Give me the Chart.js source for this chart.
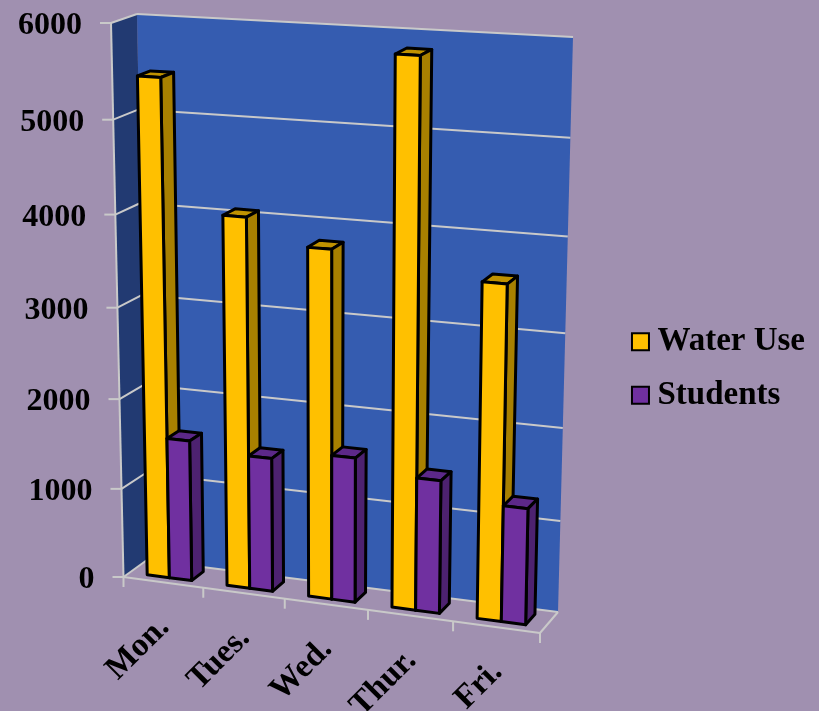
<!DOCTYPE html>
<html>
<head>
<meta charset="utf-8">
<title>Water Use and Students</title>
<script src="https://cdn.jsdelivr.net/npm/chart.js@4"></script>
<style>
  html, body { margin: 0; padding: 0; background: #a090b0; }
  #wrap { width: 819px; height: 711px; }
</style>
</head>
<body>
<div id="wrap"><canvas id="chart" width="819" height="711"></canvas></div>
<script>
// Chart values
const categories = ['Mon.', 'Tues.', 'Wed.', 'Thur.', 'Fri.'];
const waterUse = [5440, 4050, 3790, 5830, 3590];
const students = [1570, 1480, 1590, 1450, 1260];

// Box of the 3D scene on screen, front and back planes
const frontPlane = { tl: [111, 23], tr: [552, 50], br: [540, 633], bl: [123.5, 577] };
const backPlane = { tl: [137, 14], tr: [573, 37], br: [558, 612], bl: [147, 560] };
const barDepth = { near: 0.27, far: 0.78 };

const palette = {
  page: '#a090b0', wall: '#355cb0', sideWall: '#223a72', rule: '#c9c9c9',
  ink: '#000000',
  water: { front: '#ffc000', side: '#a88000', top: '#c09200' },
  students: { front: '#7030a0', side: '#4d2270', top: '#5c2888' }
};
const valueFont = 'bold 32px "Liberation Serif", serif';
const categoryFont = 'bold 33px "Liberation Serif", serif';

// Homography taking the unit square onto a quad (u right, v up)
function squareToQuad(q) {
  const [x0, y0] = q.bl, [x1, y1] = q.br, [x2, y2] = q.tr, [x3, y3] = q.tl;
  const dx1 = x1 - x2, dx2 = x3 - x2, sx = x0 - x1 + x2 - x3;
  const dy1 = y1 - y2, dy2 = y3 - y2, sy = y0 - y1 + y2 - y3;
  const den = dx1 * dy2 - dx2 * dy1;
  const g = (sx * dy2 - dx2 * sy) / den;
  const h = (dx1 * sy - sx * dy1) / den;
  const a = x1 - x0 + g * x1, b = x3 - x0 + h * x3;
  const d = y1 - y0 + g * y1, e = y3 - y0 + h * y3;
  return (u, v) => {
    const w = g * u + h * v + 1;
    return [(a * u + b * v + x0) / w, (d * u + e * v + y0) / w];
  };
}
const frontMap = squareToQuad(frontPlane);
const backMap = squareToQuad(backPlane);

// u, v in chart-area fractions; depth 0 at the front edge, 1 at the back wall
function project(u, v, depth) {
  const f = frontMap(u, v), b = backMap(u, v);
  return [f[0] + (b[0] - f[0]) * depth, f[1] + (b[1] - f[1]) * depth];
}

function polygon(ctx, pts, fill, stroke, lw) {
  ctx.beginPath();
  pts.forEach((p, i) => i ? ctx.lineTo(p[0], p[1]) : ctx.moveTo(p[0], p[1]));
  ctx.closePath();
  if (fill) { ctx.fillStyle = fill; ctx.fill(); }
  if (stroke) { ctx.strokeStyle = stroke; ctx.lineWidth = lw; ctx.lineJoin = 'round'; ctx.stroke(); }
}

function segment(ctx, a, b) {
  ctx.beginPath();
  ctx.moveTo(a[0], a[1]);
  ctx.lineTo(b[0], b[1]);
  ctx.stroke();
}

function drawPrism(ctx, u0, u1, vTop, vBase, colors) {
  const { near, far } = barDepth;
  polygon(ctx, [project(u0, vTop, near), project(u1, vTop, near), project(u1, vTop, far), project(u0, vTop, far)],
    colors.top, palette.ink, 3);
  polygon(ctx, [project(u1, vBase, near), project(u1, vBase, far), project(u1, vTop, far), project(u1, vTop, near)],
    colors.side, palette.ink, 3);
  polygon(ctx, [project(u0, vBase, near), project(u1, vBase, near), project(u1, vTop, near), project(u0, vTop, near)],
    colors.front, palette.ink, 3);
}

// Replaces the flat bar drawing with a box scene driven by the chart's scales
const boxScene = {
  id: 'boxScene',
  beforeDatasetsDraw(chart) {
    const { ctx, chartArea: area, scales } = chart;
    const toU = px => (px - area.left) / (area.right - area.left);
    const toV = py => (area.bottom - py) / (area.bottom - area.top);
    ctx.save();

    // Walls
    polygon(ctx, [project(0, 0, 1), project(1, 0, 1), project(1, 1, 1), project(0, 1, 1)], palette.wall);
    polygon(ctx, [project(0, 0, 0), project(0, 0, 1), project(0, 1, 1), project(0, 1, 0)], palette.sideWall);

    // Value gridlines, ticks and labels
    ctx.strokeStyle = palette.rule;
    ctx.lineWidth = 2;
    ctx.lineCap = 'butt';
    ctx.font = valueFont;
    ctx.textAlign = 'right';
    ctx.textBaseline = 'middle';
    scales.y.ticks.forEach((tick, i) => {
      const v = toV(scales.y.getPixelForTick(i));
      const corner = project(0, v, 0);
      segment(ctx, project(1, v, 1), project(0, v, 1));
      segment(ctx, project(0, v, 1), corner);
      segment(ctx, corner, [corner[0] - 11, corner[1]]);
      ctx.fillStyle = palette.ink;
      ctx.fillText(tick.label, corner[0] - 29, corner[1] + 3);
    });

    // Box edges
    segment(ctx, project(0, 0, 0), project(0, 1, 0));
    segment(ctx, project(0, 0, 0), project(1, 0, 0));
    segment(ctx, project(1, 0, 0), project(1, 0, 1));

    // Category ticks at the band edges, labels at the band centres
    const bands = scales.x.ticks.length;
    for (let i = 0; i <= bands; i++) {
      const p = project(i / bands, 0, 0);
      segment(ctx, p, [p[0], p[1] + 10]);
    }
    ctx.font = categoryFont;
    scales.x.ticks.forEach((tick, i) => {
      const p = project(toU(scales.x.getPixelForTick(i)), 0, 0);
      ctx.save();
      ctx.translate(p[0] + 1, p[1] + 40);
      ctx.rotate(-Math.PI / 4);
      ctx.fillStyle = palette.ink;
      ctx.textAlign = 'right';
      ctx.fillText(tick.label, 0, 0);
      ctx.restore();
    });

    // Bars, left to right so nearer faces overlap
    const schemes = [palette.water, palette.students];
    const metas = chart.data.datasets.map((_, i) => chart.getDatasetMeta(i));
    categories.forEach((_, c) => {
      metas.forEach((meta, s) => {
        const el = meta.data[c];
        const half = el.width / 2;
        drawPrism(ctx, toU(el.x - half), toU(el.x + half), toV(el.y), toV(el.base), schemes[s]);
      });
    });

    ctx.restore();
    return false;
  }
};

new Chart(document.getElementById('chart'), {
  type: 'bar',
  data: {
    labels: categories,
    datasets: [
      { label: 'Water Use', data: waterUse, backgroundColor: palette.water.front, borderColor: palette.ink, borderWidth: 2 },
      { label: 'Students', data: students, backgroundColor: palette.students.front, borderColor: palette.ink, borderWidth: 2 }
    ]
  },
  options: {
    responsive: false,
    animation: false,
    layout: { padding: { top: 26, right: 4, bottom: 0, left: 0 } },
    datasets: { bar: { categoryPercentage: 0.56, barPercentage: 1 } },
    scales: {
      x: { grid: { display: false }, border: { display: false }, ticks: { display: false, autoSkip: false } },
      y: {
        min: 0, max: 6000,
        grid: { display: false }, border: { display: false },
        ticks: { display: false, stepSize: 1000, callback: value => String(value) }
      }
    },
    plugins: {
      tooltip: { enabled: false },
      legend: {
        position: 'right',
        labels: {
          color: palette.ink,
          font: { family: '"Liberation Serif", serif', size: 33, weight: 'bold' },
          usePointStyle: true,
          pointStyle: 'rect',
          boxWidth: 1,
          boxHeight: 17,
          padding: 20.5
        }
      }
    }
  },
  plugins: [boxScene]
});
</script>
</body>
</html>
